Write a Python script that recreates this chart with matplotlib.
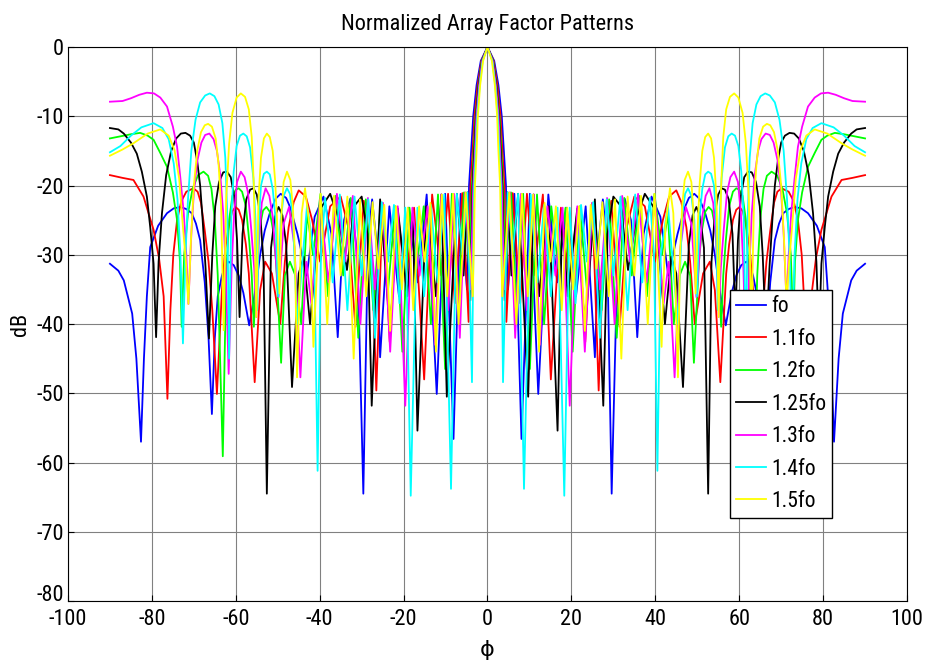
import numpy as np
import matplotlib
matplotlib.use("Agg")
import matplotlib.pyplot as plt
from matplotlib import font_manager
from matplotlib.transforms import ScaledTranslation

# MATLAB-like narrow Helvetica look if a condensed face is around
installed = {f.name for f in font_manager.fontManager.ttflist}
narrow = next((n for n in ['Liberation Sans Narrow', 'Roboto Condensed', 'Open Sans Condensed', 'Arial Narrow']
               if n in installed), 'Liberation Sans')
plt.rcParams['font.family'] = [narrow, 'DejaVu Sans']
plt.rcParams['axes.unicode_minus'] = False

# left half of each pattern (phi in degrees, level in dB); the patterns are symmetric about 0
fo_pts = [(-90, -31.3), (-88, -32.3), (-86.7, -33.7), (-84.7, -38.5), (-83.7, -45), (-82.6, -57), (-81.9, -45),
          (-81.2, -36), (-80.4, -28.9), (-78.5, -25.8), (-76.4, -24), (-74.8, -23.3), (-73.2, -23.1),
          (-71.8, -23.4), (-70.5, -24), (-69.5, -25.5), (-68.5, -27.9), (-67.4, -34), (-66.5, -42), (-65.7, -53),
          (-65, -42), (-64.3, -36), (-63.3, -33), (-62.5, -31.5), (-61.7, -31), (-60.5, -31.5), (-59.3, -33),
          (-58.2, -35.5), (-56.8, -40.2), (-55.3, -35), (-54.2, -30), (-53.1, -26.5), (-51.8, -23.8),
          (-50.5, -21.9), (-49.3, -21.2), (-48, -21.8), (-47, -23.2), (-45.3, -27), (-43.1, -33), (-41.2, -24.5),
          (-39.1, -21.6), (-37.2, -27), (-35.7, -41.9), (-34.2, -25), (-32.7, -21.9), (-31, -30), (-29.6, -64.5),
          (-28.5, -28), (-27.5, -22), (-26.5, -28), (-25.6, -44.8), (-23.4, -23), (-21.1, -36), (-18.9, -23.2),
          (-16.6, -34), (-14.5, -21.3), (-12.1, -50.1), (-10.1, -21.2), (-8.1, -56.6), (-6.4, -21.2), (-4.9, -35),
          (-4.4, -20), (-3.9, -15), (-3.4, -10), (-2.6, -5.5), (-1.6, -2), (0, 0)]

f11_pts = [(-90, -18.5), (-87, -18.9), (-84.4, -19.2), (-82, -21.6), (-79.6, -26.4), (-78.3, -30.5),
           (-77.2, -36), (-76.3, -50.8), (-75.6, -38), (-74.9, -30), (-74, -25), (-73, -22.3), (-71.8, -20.9),
           (-70.1, -20.4), (-69.1, -20.9), (-68.3, -22.5), (-67.4, -26.5), (-66.5, -31), (-65.6, -38),
           (-64.5, -50.1), (-63.3, -35.1), (-62.5, -29), (-61.7, -26), (-60.9, -23.8), (-60.1, -23.1),
           (-59.3, -23.5), (-58.5, -25), (-57.6, -28.5), (-56.9, -32.7), (-55.5, -48.4), (-54.2, -35.1),
           (-53, -31), (-51.4, -32.7), (-49.4, -40), (-48.3, -31), (-47.4, -26), (-46.2, -22.4), (-45, -20.7),
           (-43.3, -21.6), (-41.8, -25), (-39.9, -31), (-37.5, -23), (-35, -21.6), (-33.2, -26), (-31.5, -40.4),
           (-29.5, -22.2), (-27.6, -30), (-26.5, -49.6), (-25, -22.5), (-23.3, -42.6), (-21.5, -23.3),
           (-19.5, -34), (-17.5, -23.2), (-15.1, -48), (-13.2, -21.3), (-11, -33), (-9.4, -21.2), (-7.8, -37),
           (-6, -21.1), (-4.5, -39.7), (-4.05, -20), (-3.55, -15), (-3.1, -10), (-2.35, -5.5), (-1.45, -2), (0, 0)]

f12_pts = [(-90, -13.2), (-87.5, -12.9), (-85, -12.6), (-82.8, -12.4), (-81, -12.8), (-79.6, -13.4), (-78, -15.3),
           (-76.4, -17.3), (-75, -21), (-74, -25), (-73.3, -31), (-72.9, -40.4), (-72.3, -30), (-71.4, -24),
           (-70.3, -20.5), (-69, -18.5), (-67.7, -18), (-66.6, -18.6), (-65.8, -20.5), (-65, -25), (-64.3, -33),
           (-63.1, -59.1), (-62.3, -33), (-61.6, -25), (-60.8, -21.5), (-60, -20.6), (-59.3, -20.4),
           (-58.5, -20.9), (-57.6, -23), (-56.8, -28), (-56.2, -33), (-55.7, -40.4), (-55, -31), (-54.3, -26),
           (-53.5, -23.6), (-52.7, -23.1), (-51.9, -23.8), (-51.1, -26.5), (-50.4, -31), (-49.2, -45.6),
           (-48.3, -33), (-47.1, -31), (-45.8, -33), (-44.4, -40), (-43, -24), (-41.6, -30), (-39.8, -21.2),
           (-38, -36), (-36.2, -21.5), (-34.4, -33), (-32.6, -21.8), (-30.8, -42), (-29, -22), (-27.2, -38),
           (-25.5, -22.5), (-23.7, -35), (-22, -23), (-20.3, -44), (-18.6, -23.2), (-16.9, -32), (-15.2, -23),
           (-13.5, -40), (-11.8, -21.3), (-10.1, -46.5), (-8.5, -21.2), (-6.9, -37), (-5.6, -21), (-4.3, -33),
           (-3.7, -20), (-3.3, -15), (-2.85, -10), (-2.15, -5.5), (-1.35, -2), (0, 0)]

f125_pts = [(-90, -11.7), (-88, -11.9), (-86.7, -12.5), (-85, -13.8), (-83.6, -15.4), (-82.4, -18), (-81.2, -21.6),
            (-80.4, -26), (-79.6, -31.3), (-79, -41.9), (-78.4, -31), (-77.6, -24), (-76.6, -18.5), (-75.4, -15),
            (-74.2, -13.2), (-73.1, -12.5), (-72, -12.4), (-70.9, -12.8), (-70, -13.8), (-69.2, -16.5),
            (-68.5, -20), (-67.9, -25), (-67.2, -32), (-66.4, -42.1), (-65.6, -30), (-64.9, -23), (-64, -19.5),
            (-63, -18.1), (-62.1, -18), (-61.2, -18.8), (-60.4, -21.5), (-59.7, -27.9), (-59.1, -39),
            (-58.4, -27), (-57.5, -22), (-56.6, -20.6), (-55.8, -20.4), (-55, -21.3), (-54.2, -24), (-53.4, -31),
            (-52.6, -64.5), (-51.6, -29), (-50.7, -24.5), (-49.8, -23.1), (-48.9, -24.3), (-48, -28.5),
            (-46.6, -49.1), (-45, -32.7), (-43.8, -30.3), (-42.3, -40), (-40, -23.5), (-37.5, -21.2), (-35.4, -25),
            (-33.5, -32.2), (-31.8, -23), (-30, -21.6), (-28.6, -27), (-27.6, -51.8), (-25.6, -22), (-23.2, -41),
            (-21.4, -23.3), (-19.1, -36), (-17.8, -24), (-16.7, -55.4), (-14.6, -23), (-12.3, -36), (-11, -21.3),
            (-9.7, -50.5), (-7.3, -21.2), (-5.7, -33), (-4.8, -21), (-4.1, -36.6), (-3.55, -20), (-3.15, -15),
            (-2.75, -10), (-2.1, -5.5), (-1.3, -2), (0, 0)]

f13_pts = [(-90, -7.9), (-87, -7.8), (-85, -7.4), (-83, -6.9), (-81.2, -6.6), (-79.5, -6.7), (-78, -7.3),
           (-76.4, -8.6), (-75, -11.5), (-74, -14.4), (-73.2, -19), (-72.4, -24), (-71.8, -30), (-71.3, -37.1),
           (-70.6, -27), (-70, -21), (-69.2, -16.5), (-68.2, -13.8), (-67.3, -12.7), (-66.3, -12.5),
           (-65.3, -13.3), (-64.5, -15), (-63.7, -18.5), (-63, -24), (-62.4, -32), (-61.7, -47.2), (-61, -32),
           (-60.4, -24), (-59.7, -19.5), (-58.8, -18), (-57.9, -18.8), (-57.1, -21), (-56.3, -26.5), (-55.6, -32),
           (-55.1, -39), (-54.5, -28), (-53.8, -22.5), (-52.9, -20.4), (-52, -21.5), (-51.2, -24.5),
           (-49.8, -36.1), (-48.6, -25.5), (-47.3, -23.1), (-46, -28.9), (-44.6, -47.7), (-43.2, -31), (-42, -37),
           (-39.9, -22), (-37.9, -34), (-35.9, -21.2), (-34, -31), (-32.1, -21.5), (-30.3, -40), (-28.5, -21.8),
           (-26.8, -35), (-25, -22.5), (-23.2, -44), (-21.4, -23), (-19.6, -51.8), (-17.9, -23.2), (-16.2, -33),
           (-14.3, -23), (-12.5, -43), (-11, -21.3), (-9.4, -38), (-8, -21.2), (-6.6, -42), (-5.3, -21), (-4, -35),
           (-3.4, -20), (-3, -15), (-2.65, -10), (-2, -5.5), (-1.25, -2), (0, 0)]

f14_pts = [(-90, -15.2), (-87.5, -14.3), (-85, -12.8), (-82.5, -11.6), (-79.6, -11), (-77.5, -11.7), (-76, -13.3),
           (-74.8, -16.8), (-73.9, -22), (-73.2, -30), (-72.6, -42.8), (-72, -30), (-71.4, -22), (-70.6, -15),
           (-69.6, -10.5), (-68.5, -8), (-67.3, -7), (-66.2, -6.7), (-65.1, -7.1), (-64.1, -8.3), (-63.2, -11),
           (-62.5, -16), (-62, -25), (-61.6, -45), (-61.1, -25), (-60.5, -18), (-59.8, -14.3), (-59, -12.8),
           (-58.2, -12.5), (-57.4, -12.9), (-56.6, -14.5), (-55.8, -19), (-55.3, -25), (-54.9, -38), (-54.5, -25),
           (-54, -20), (-53.3, -18.3), (-52.6, -18), (-51.9, -18.4), (-51.2, -20.5), (-50.5, -25), (-49.9, -36),
           (-49.3, -25), (-48.6, -21.5), (-47.8, -20.4), (-47.1, -21.2), (-46.4, -24.5), (-45.4, -40), (-43, -22.8),
           (-41.3, -30), (-40.5, -61.2), (-39.7, -30), (-38.7, -21.8), (-36.9, -34), (-35.2, -21.3), (-33.4, -38),
           (-31.7, -21.6), (-30, -33), (-28.4, -22), (-26.8, -42), (-25.2, -22.4), (-23.7, -31), (-22.3, -22.8),
           (-21, -37), (-19.6, -23.2), (-18.3, -64.8), (-16.7, -23.2), (-15.1, -36), (-13.5, -22.8), (-11.9, -34),
           (-10.3, -21.3), (-8.7, -63.8), (-7.3, -21.2), (-6, -30), (-4.8, -21), (-3.7, -48.4), (-3.2, -20),
           (-2.8, -15), (-2.45, -10), (-1.85, -5.5), (-1.15, -2), (0, 0)]

f15_pts = [(-90, -15.7), (-87, -14.8), (-84.4, -13.9), (-81, -12.5), (-78, -11.9), (-76, -12.8), (-74.6, -14.9),
           (-73.5, -19), (-72.6, -26), (-71.9, -31), (-71.3, -37.1), (-70.7, -28), (-70, -20), (-69.2, -15),
           (-68.3, -12.3), (-67.4, -11.3), (-66.6, -11.1), (-65.7, -11.5), (-64.8, -13.2), (-64.1, -17),
           (-63.5, -23), (-62.9, -40.9), (-62.3, -22), (-61.6, -14), (-60.8, -9.5), (-59.8, -7.3), (-58.8, -6.7),
           (-57.8, -7.2), (-56.9, -9), (-56.2, -13), (-55.7, -20), (-55.1, -39), (-54.6, -22), (-54, -16),
           (-53.3, -13.2), (-52.6, -12.5), (-51.9, -13), (-51.2, -15), (-50.6, -19.5), (-50.1, -26), (-49.6, -35.6),
           (-49.1, -24), (-48.6, -19.5), (-47.8, -18), (-47, -19.2), (-46.4, -23), (-45.9, -30), (-45.4, -47.7),
           (-44.3, -24), (-43.5, -20.4), (-42.4, -26), (-41.5, -43.3), (-39.8, -21.2), (-38.2, -40), (-36.6, -21.5),
           (-35, -33), (-33.4, -21.6), (-31.9, -45), (-30.4, -22), (-28.9, -36), (-27.4, -22.4), (-26, -32),
           (-24.6, -22.8), (-23.2, -41), (-21.8, -23), (-20.4, -35), (-19, -23.2), (-17.7, -38), (-16.3, -23),
           (-15, -31), (-13.6, -22.5), (-12.3, -44), (-10.9, -21.3), (-9.6, -36), (-8.2, -21.2), (-6.9, -40),
           (-5.2, -21), (-3.5, -36), (-3, -20), (-2.6, -15), (-2.3, -10), (-1.75, -5.5), (-1.05, -2), (0, 0)]

labels = ['fo', '1.1fo', '1.2fo', '1.25fo', '1.3fo', '1.4fo', '1.5fo']
colors = ['#0000ff', '#ff0000', '#00ff00', '#000000', '#ff00ff', '#00ffff', '#ffff00']
series = [fo_pts, f11_pts, f12_pts, f125_pts, f13_pts, f14_pts, f15_pts]


def full_pattern(pts):
    # mirror the left half onto the right half
    phi, db = np.array(pts, dtype=float).T
    return np.concatenate([phi, -phi[-2::-1]]), np.concatenate([db, db[-2::-1]])


fig = plt.figure(figsize=(9.28, 6.63), dpi=100)
ax = fig.add_axes([68 / 928, 1 - 601 / 663, (907 - 68) / 928, (601 - 47) / 663])

for pts, c, lab in zip(series, colors, labels):
    x, y = full_pattern(pts)
    ax.plot(x, y, color=c, lw=1.3, label=lab)

ax.set_xlim(-100, 100)
ax.set_ylim(-80, 0)
ax.set_xticks(np.arange(-100, 101, 20))
ax.set_yticks(np.arange(-80, 1, 10))
ax.grid(True, color='#808080', lw=0.8)
ax.tick_params(direction='in', labelsize=16, length=4)
ax.tick_params(axis='x', pad=6)
ax.tick_params(axis='y', pad=3)
for s in ax.spines.values():
    s.set_linewidth(0.8)

# the bottom y label sits a little higher so it clears the -100 below it
lab80 = ax.get_yticklabels()[0]
lab80.set_transform(lab80.get_transform() + ScaledTranslation(0, 6 / 72, fig.dpi_scale_trans))

ax.set_title('Normalized Array Factor Patterns', fontsize=16, pad=12)
ax.set_xlabel('ϕ', fontsize=16, labelpad=7)
ax.set_ylabel('dB', fontsize=16, labelpad=4)

leg = ax.legend(loc='upper left', bbox_to_anchor=(730 / 928, 1 - 290 / 663), bbox_transform=fig.transFigure,
                borderaxespad=0, fancybox=False, edgecolor='black', framealpha=1, fontsize=15.5,
                handlelength=1.35, handletextpad=0.25, labelspacing=0.53, borderpad=0.3)
leg.get_frame().set_linewidth(1.0)

fig.savefig('out.png', dpi=100)
